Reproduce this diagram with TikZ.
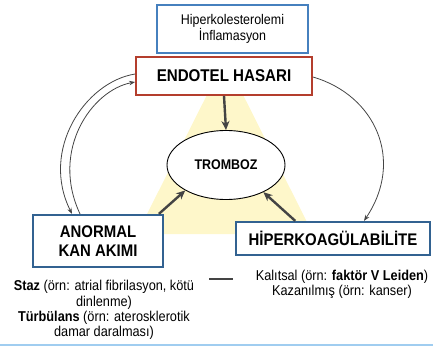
\documentclass[tikz,border=0pt]{standalone}
\usepackage{fontspec}
\setmainfont{Liberation Sans}[FakeStretch=0.89]
\usetikzlibrary{arrows.meta, calc, shapes.geometric}

\definecolor{boxblue}{RGB}{70,128,190}
\definecolor{darkblue}{RGB}{50,98,145}
\definecolor{boxred}{RGB}{180,62,45}
\definecolor{paleyellow}{RGB}{254,247,202}
\definecolor{linegray}{RGB}{68,68,68}
\definecolor{ruleblue}{RGB}{160,205,240}

\begin{document}
\begin{tikzpicture}[
                x=1pt, y=-1pt,
                box/.style={rectangle, draw, fill=white, align=center, inner sep=0pt},
                note/.style={align=center, font=\fontsize{14.3}{15.2}\selectfont},
                thinarc/.style={-{Stealth[length=6pt,width=4.5pt]}, draw=linegray, line width=0.8pt},
                boldarrow/.style={-{Stealth[length=9pt,width=8pt]}, draw=linegray, line width=2.4pt}
            ]
                \useasboundingbox (0,0) rectangle (433,347);
                \fill[paleyellow] (225,59) -- (313,234) -- (137,234) -- cycle;

                \node[box, draw=boxblue, line width=1.8pt, minimum width=151, minimum height=48,
                      font=\fontsize{14}{15.5}\selectfont] (risk) at (232.5,29) {Hiperkolesterolemi\\İnflamasyon};
                \node[box, draw=boxred, line width=1.8pt, minimum width=176, minimum height=38,
                      font=\bfseries\fontsize{17}{18}\selectfont] (endotel) at (224,76) {ENDOTEL HASARI};
                \node[ellipse, draw=black, fill=white, line width=0.9pt, minimum width=118, minimum height=69,
                      inner sep=0pt, font=\bfseries\fontsize{14}{15}\selectfont] (tromboz) at (226,165) {TROMBOZ};
                \node[box, draw=darkblue, line width=2.2pt, minimum width=130, minimum height=52,
                      font=\bfseries\fontsize{16.8}{18.5}\selectfont] (anormal) at (98,241) {ANORMAL\\KAN AKIMI};
                \node[box, draw=darkblue, line width=2.2pt, minimum width=194, minimum height=33,
                      font=\bfseries\fontsize{16.8}{18}\selectfont] (hiper) at (333,238.5) {HİPERKOAGÜLABİLİTE};

                \node[note] (stazlbl) at (104,310) {\textbf{Staz} (örn: atrial fibrilasyon, kötü\\dinlenme)\\\textbf{Türbülans} (örn: aterosklerotik\\damar daralması)};
                \node[note] (kalitlbl) at (342,284) {Kalıtsal (örn: \textbf{faktör V Leiden})\\Kazanılmış (örn: kanser)};

                \draw[boldarrow] (endotel.south) -- (tromboz.north);
                \draw[boldarrow] (anormal.24) -- (tromboz.212);
                \draw[boldarrow] (hiper.155) -- (tromboz.324);

                \draw[thinarc] ($(endotel.west)+(0,-2)$) .. controls (85,82) and (40,150) .. ($(anormal.north)+(-26,0)$);
                \draw[thinarc] ($(anormal.north)+(-18,0)$) .. controls (50,150) and (92,90) .. ($(endotel.west)+(0,6)$);
                \draw[thinarc] ($(endotel.east)+(0,1)$) .. controls (375,95) and (405,160) .. ($(hiper.north)+(31,0)$);

                \draw[linegray, line width=1.2pt] (209,279) -- (233,279);
                \draw[ruleblue, line width=1.2pt] (0,345) -- (433,345);
            \end{tikzpicture}
\end{document}
